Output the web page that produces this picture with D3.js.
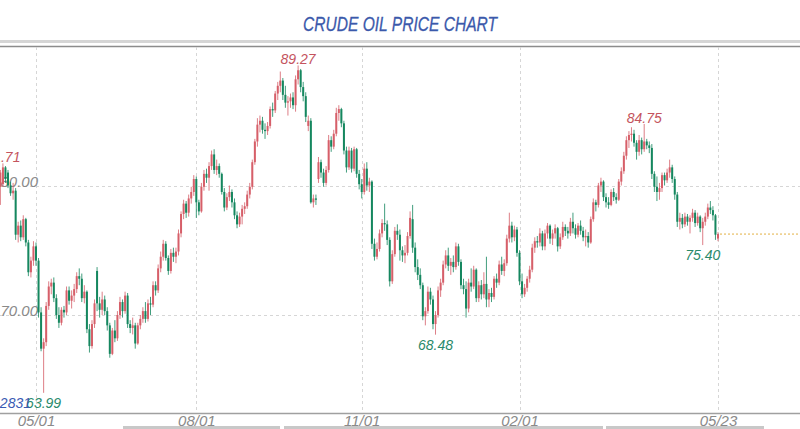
<!DOCTYPE html>
<html>
<head>
<meta charset="utf-8">
<script src="https://cdn.jsdelivr.net/npm/d3@7/dist/d3.min.js"></script>
<style>
  body { margin: 0; background: #fff; }
  svg { display: block; }
</style>
</head>
<body>
<script>

// trading days from 2023-04-11 to 2024-05-23 (exchange holidays left out)
var firstDay = "2023-04-11";
var lastDay = "2024-05-23";
var holidays = ["2023-05-29", "2023-06-19", "2023-07-04", "2023-09-04", "2023-11-23",
                "2023-12-25", "2024-01-01", "2024-01-15", "2024-02-19", "2024-03-29"];

// one line per month
var open = [
  79.9, 80.1, 81.4, 81.0, 80.0, 79.4, 79.6, 76.2, 76.9, 76.0, 77.4, 75.6, 73.3, 74.2,
  75.3, 74.2, 70.2, 67.4, 67.9, 70.7, 72.2, 72.5, 71.3, 70.0, 69.4, 70.4, 70.2, 71.9, 71.1, 71.5, 72.0, 73.0, 72.8, 71.3, 71.8, 68.9,
  67.6, 69.3, 73.4, 70.9, 70.4, 71.2, 70.3, 69.2, 67.0, 68.8, 68.2, 70.0, 71.0, 70.3, 71.5, 69.3, 69.0, 69.2, 67.8, 69.2, 69.7,
  70.3, 69.7, 70.9, 70.8, 72.3, 71.9, 73.6, 74.5, 75.5, 74.4, 73.4, 74.8, 74.5, 74.9, 76.3, 77.8, 78.6, 77.9, 79.0, 79.5,
  80.5, 78.7, 78.0, 79.9, 80.9, 80.6, 81.5, 82.4, 81.2, 81.5, 80.9, 79.5, 78.3, 79.1, 79.5, 78.7, 77.7, 77.0, 77.6, 78.2, 78.4, 79.3, 79.9,
  81.8, 83.4, 84.7, 85.0, 84.3, 84.2, 84.6, 85.9, 85.8, 87.1, 87.7, 88.1, 87.0, 86.4, 86.5, 86.8, 86.2, 88.2, 88.9, 87.6,
  86.9, 84.6, 85.0, 78.7, 79.0, 80.5, 81.8, 81.0, 80.2, 81.2, 83.5, 83.0, 84.0, 85.6, 85.9, 84.8, 82.7, 81.4, 82.7, 81.3, 82.8, 80.9,
  80.1, 79.5, 81.3, 80.0, 80.3, 75.5, 74.5, 75.1, 76.3, 77.1, 77.0, 75.8, 72.6, 74.7, 76.5, 76.2, 75.0, 74.6, 74.8, 76.1, 77.4,
  75.2, 73.7, 73.1, 72.3, 69.9, 70.3, 71.8, 71.2, 69.3, 70.0, 71.9, 72.5, 73.9, 74.6, 73.8, 74.1, 73.7, 75.3, 74.1, 72.3,
  72.0, 70.5, 72.5, 72.2, 73.5, 71.3, 72.3, 71.6, 72.4, 71.2, 71.7, 71.4, 72.8, 72.5, 73.9, 73.4, 74.0, 75.9, 76.9, 76.0, 76.6,
  74.8, 72.6, 71.6, 72.1, 72.8, 73.5, 75.2, 75.7, 75.6, 76.3, 75.3, 76.3, 76.9, 75.9, 76.3, 76.7, 75.3, 76.0, 76.8, 76.5,
  76.3, 77.2, 76.7, 76.2, 76.9, 76.5, 76.0, 76.1, 75.6, 77.4, 78.7, 78.5, 80.0, 80.3, 79.1, 78.7, 78.5, 79.5, 79.1, 78.9,
  80.3, 81.1, 82.3, 83.5, 83.9, 84.0, 83.3, 82.6, 83.5, 82.8, 83.4, 83.1, 82.9, 80.9, 79.9, 79.5, 79.8, 80.8, 80.4, 81.0, 81.4, 80.5,
  79.3, 77.2, 77.5, 77.0, 77.6, 77.2, 77.5, 77.9, 77.1, 77.6, 76.7, 77.2, 77.6, 78.3, 78.1, 77.7, 75.9
];
var high = [
  81.2, 81.71, 81.5, 81.2, 80.3, 80.2, 79.8, 77.2, 77.3, 77.7, 77.5, 75.8, 74.5, 75.7,
  75.6, 74.4, 70.6, 68.2, 71.0, 72.6, 72.8, 72.9, 71.6, 70.6, 70.6, 70.7, 72.2, 72.2, 71.9, 72.4, 73.3, 73.6, 73.2, 72.3, 71.9, 69.3,
  69.6, 71.2, 73.7, 71.4, 71.8, 71.5, 70.6, 69.4, 69.0, 69.6, 70.3, 71.4, 71.2, 71.8, 71.7, 69.6, 69.8, 69.4, 69.4, 70.0, 70.6,
  71.0, 71.2, 71.4, 72.6, 72.6, 73.9, 74.9, 75.8, 75.7, 74.6, 75.1, 75.2, 75.2, 76.6, 78.0, 78.9, 78.8, 79.3, 79.9, 80.8,
  80.7, 78.9, 80.2, 81.2, 81.3, 81.8, 82.7, 82.8, 82.0, 81.7, 81.0, 79.8, 79.4, 80.0, 79.7, 79.0, 78.0, 77.9, 78.5, 78.7, 79.6, 80.2, 82.0,
  83.6, 85.2, 85.4, 85.3, 84.8, 84.9, 86.1, 86.4, 87.3, 88.0, 88.8, 88.3, 87.7, 86.9, 87.1, 87.2, 88.5, 89.27, 89.0, 88.0,
  87.2, 85.4, 85.2, 79.3, 79.3, 82.2, 82.0, 81.3, 81.5, 83.9, 83.8, 84.3, 86.0, 86.2, 86.0, 85.0, 83.0, 83.0, 82.9, 83.0, 82.9, 81.2,
  80.5, 81.7, 81.8, 80.6, 80.4, 75.9, 75.6, 76.6, 77.4, 78.6, 77.3, 76.0, 75.0, 76.8, 77.0, 76.6, 75.3, 75.4, 76.4, 78.0, 78.5,
  75.6, 74.3, 73.6, 72.5, 70.6, 72.2, 72.1, 71.5, 70.3, 72.2, 72.8, 74.2, 75.0, 75.2, 74.4, 74.6, 75.6, 75.5, 74.3, 72.8,
  72.6, 72.8, 73.6, 73.8, 73.6, 72.6, 72.7, 73.3, 74.5, 72.0, 72.1, 73.0, 73.2, 74.2, 74.5, 74.3, 76.2, 77.9, 77.2, 76.9, 76.8,
  75.0, 73.2, 72.4, 73.0, 73.8, 75.5, 76.0, 76.1, 76.7, 76.5, 76.6, 77.1, 77.0, 76.6, 77.0, 76.8, 76.3, 77.2, 77.0, 76.8,
  77.5, 77.9, 77.0, 77.1, 77.3, 76.8, 76.6, 76.4, 77.6, 79.0, 78.9, 80.2, 80.6, 80.4, 79.4, 79.1, 79.7, 79.8, 79.4, 80.5,
  81.4, 82.6, 83.8, 84.2, 84.5, 84.3, 83.5, 83.9, 83.7, 84.75, 83.6, 83.4, 83.2, 81.1, 80.7, 80.2, 81.0, 81.0, 81.3, 82.0, 81.6, 80.7,
  79.5, 77.9, 77.8, 77.9, 77.8, 77.7, 78.2, 78.1, 77.9, 77.7, 77.5, 77.9, 78.6, 78.8, 78.4, 77.8, 76.4
];
var low = [
  78.5, 79.9, 80.2, 79.8, 79.2, 78.9, 75.8, 75.6, 75.7, 75.8, 75.3, 73.0, 72.9, 73.8,
  73.8, 69.8, 67.2, 63.99, 67.6, 70.4, 71.6, 71.0, 69.7, 69.0, 69.2, 69.8, 70.0, 70.8, 70.5, 71.0, 71.7, 72.3, 71.0, 70.9, 68.6, 67.1,
  67.4, 69.0, 70.3, 69.8, 70.0, 70.0, 68.8, 66.7, 66.9, 67.9, 68.0, 69.7, 69.8, 70.1, 69.0, 68.6, 68.5, 67.4, 67.7, 68.9, 69.4,
  69.4, 69.5, 70.0, 70.6, 71.5, 71.7, 73.3, 74.2, 74.2, 73.1, 73.2, 74.1, 74.0, 74.6, 76.0, 77.4, 77.5, 77.6, 78.6, 79.2,
  77.5, 77.7, 77.9, 79.6, 80.2, 79.6, 81.2, 80.9, 80.8, 80.6, 79.3, 78.0, 78.1, 78.8, 78.3, 77.4, 76.7, 76.8, 77.0, 77.8, 78.2, 79.0, 79.7,
  81.6, 83.0, 84.1, 84.0, 83.6, 83.9, 84.4, 85.3, 85.6, 86.6, 87.2, 86.6, 86.0, 85.4, 86.0, 85.9, 85.7, 87.8, 87.2, 86.5,
  84.9, 84.2, 78.6, 78.3, 78.5, 80.2, 80.6, 79.9, 80.0, 81.0, 82.6, 82.8, 83.8, 85.0, 84.5, 82.4, 81.0, 81.2, 81.0, 81.1, 80.6, 79.7,
  79.0, 79.3, 79.6, 79.5, 75.1, 74.2, 74.3, 74.9, 76.0, 76.5, 75.4, 72.2, 72.4, 74.5, 75.8, 74.2, 74.1, 74.0, 74.6, 75.9, 74.8,
  73.3, 72.7, 72.0, 69.6, 69.2, 70.1, 70.8, 68.9, 68.48, 69.8, 71.4, 72.3, 73.6, 73.4, 73.1, 73.3, 73.5, 73.8, 72.0, 71.6,
  69.8, 70.2, 71.8, 72.0, 71.0, 71.0, 71.2, 71.3, 70.6, 70.6, 71.0, 71.2, 72.1, 72.3, 73.1, 73.0, 73.8, 75.6, 75.6, 75.7, 74.5,
  72.3, 71.3, 71.4, 71.8, 72.5, 73.3, 74.8, 75.2, 75.3, 75.0, 75.0, 75.9, 75.5, 75.4, 75.9, 74.9, 75.1, 75.8, 76.1, 75.9,
  76.1, 76.3, 75.9, 76.0, 76.2, 75.7, 75.3, 75.2, 75.5, 77.2, 78.0, 78.3, 79.5, 78.8, 78.3, 78.2, 78.4, 78.8, 78.6, 78.8,
  80.0, 80.9, 82.0, 82.9, 83.4, 83.0, 82.0, 82.3, 82.4, 82.6, 82.8, 82.5, 80.5, 79.5, 78.8, 78.9, 79.5, 80.0, 80.2, 80.6, 80.2, 78.9,
  76.8, 76.6, 76.7, 76.8, 76.9, 76.3, 77.2, 76.8, 76.9, 76.4, 75.40, 76.9, 77.4, 77.8, 77.3, 75.8, 75.7
];
var close = [
  81.0, 81.4, 80.5, 80.0, 79.4, 79.6, 76.2, 76.9, 76.0, 77.4, 75.6, 73.3, 74.2, 75.3,
  74.2, 70.2, 67.4, 67.9, 70.7, 72.2, 72.5, 71.3, 70.0, 69.4, 70.4, 70.2, 71.9, 71.1, 71.5, 72.0, 73.0, 72.8, 71.3, 71.8, 68.9, 67.6,
  69.3, 70.9, 70.9, 70.4, 71.2, 70.3, 69.2, 67.0, 68.8, 68.2, 70.0, 71.0, 70.3, 71.5, 69.3, 69.0, 69.2, 67.8, 69.2, 69.7, 70.3,
  69.7, 70.9, 70.8, 72.3, 71.9, 73.6, 74.5, 75.5, 74.4, 73.4, 74.8, 74.5, 74.9, 76.3, 77.8, 78.6, 77.9, 79.0, 79.5, 80.5,
  78.7, 78.0, 79.9, 80.9, 80.6, 81.5, 82.4, 81.2, 81.5, 80.9, 79.5, 78.3, 79.1, 79.5, 78.7, 77.7, 77.0, 77.6, 78.2, 78.4, 79.3, 79.9, 81.8,
  83.4, 84.7, 85.0, 84.3, 84.2, 84.6, 85.9, 85.8, 87.1, 87.7, 88.1, 87.0, 86.4, 86.5, 86.8, 86.2, 88.2, 88.9, 87.6, 86.9,
  85.3, 85.0, 78.7, 79.0, 78.9, 81.8, 81.0, 80.2, 81.2, 83.5, 83.0, 84.0, 85.6, 85.9, 84.8, 82.7, 81.4, 82.7, 81.3, 82.8, 80.9, 80.1,
  79.5, 81.3, 80.0, 80.3, 75.5, 74.5, 75.1, 76.3, 77.1, 77.0, 75.8, 72.6, 74.7, 76.5, 76.2, 75.0, 74.6, 74.8, 76.1, 77.5, 75.2,
  73.7, 73.1, 72.3, 69.9, 70.3, 71.8, 71.2, 69.3, 70.0, 71.9, 72.5, 73.9, 74.6, 73.8, 74.1, 73.7, 75.3, 74.1, 72.3, 72.0,
  70.5, 72.5, 72.2, 73.5, 71.3, 72.3, 71.6, 72.4, 71.2, 71.7, 71.4, 72.8, 72.5, 73.9, 73.4, 74.0, 75.9, 76.9, 76.0, 76.6, 74.8,
  72.6, 71.6, 72.1, 72.8, 73.5, 75.2, 75.7, 75.6, 76.3, 75.3, 76.3, 76.9, 75.9, 76.3, 76.7, 75.3, 76.0, 76.8, 76.5, 76.3,
  77.2, 76.7, 76.2, 76.9, 76.5, 76.0, 76.1, 75.6, 77.4, 78.7, 78.5, 80.0, 80.3, 79.1, 78.7, 78.5, 79.5, 79.1, 78.9, 80.3,
  81.1, 82.3, 83.5, 83.9, 84.0, 83.3, 82.6, 83.5, 82.8, 83.4, 83.1, 82.9, 80.9, 79.9, 79.5, 79.8, 80.8, 80.4, 81.0, 81.4, 80.5, 79.3,
  77.2, 77.5, 77.0, 77.6, 77.2, 77.5, 77.9, 77.1, 77.6, 76.7, 77.2, 77.6, 78.3, 78.1, 77.7, 76.2, 76.25
];

var tickDays = ["2023-05-01", "2023-08-01", "2023-11-01", "2024-02-01", "2024-05-23"];
var tickLabels = ["05/01", "08/01", "11/01", "02/01", "05/23"];
var priceTicks = [70, 80];

// highs and lows that carry a price label
var markDays = ["2023-04-12", "2023-05-04", "2023-09-27", "2023-12-13", "2024-04-12", "2024-05-15"];
var markKind = ["high", "low", "high", "low", "high", "low"];

var w = 800, h = 429;
var plotTop = 47, plotBottom = 413;
var upColor = "#d65f69", downColor = "#15875f";

var parse = d3.utcParse("%Y-%m-%d"), fmt = d3.utcFormat("%Y-%m-%d");
var days = d3.utcDays(parse(firstDay), d3.utcDay.offset(parse(lastDay), 1))
    .filter(function (d) {
        var wd = d.getUTCDay();
        return wd != 0 && wd != 6 && holidays.indexOf(fmt(d)) < 0;
    })
    .map(fmt);

var candles = days.map(function (d, i) {
    return {day: d, i: i, o: open[i], h: high[i], l: low[i], c: close[i]};
});

var x = d3.scaleLinear()
    .domain([days.indexOf(tickDays[0]), days.indexOf(tickDays[tickDays.length - 1])])
    .range([36, 718]);

var y = d3.scaleLinear()
    .domain([70, 80])
    .range([315, 185.5]);

var svg = d3.select("body").append("svg")
    .attr("width", w)
    .attr("height", h);

svg.append("defs").append("clipPath").attr("id", "plot")
    .append("rect")
    .attr("x", 0).attr("y", plotTop)
    .attr("width", w).attr("height", plotBottom - plotTop);

// title
svg.append("text")
    .attr("x", w / 2).attr("y", 31)
    .attr("text-anchor", "middle")
    .attr("textLength", 194)
    .attr("lengthAdjust", "spacingAndGlyphs")
    .style("font-family", "'Liberation Sans Narrow', 'Liberation Sans', sans-serif")
    .style("font-style", "italic")
    .style("font-size", "21px")
    .style("fill", "#3b59ab")
    .style("stroke", "#3b59ab")
    .style("stroke-width", 0.3)
    .text("CRUDE OIL PRICE CHART");

// frame lines under the title
svg.append("rect")
    .attr("x", 0).attr("y", 40)
    .attr("width", w).attr("height", 3)
    .style("fill", "#d5d5d5");
svg.append("line")
    .attr("x1", 0).attr("x2", w)
    .attr("y1", plotTop - 0.5).attr("y2", plotTop - 0.5)
    .style("stroke", "#8c8c8c").style("stroke-width", 1.5);

// grid
var tickIdx = tickDays.map(function (d) { return days.indexOf(d) });

svg.append("g").selectAll("line")
    .data(tickIdx)
    .enter().append("line")
    .attr("x1", function (d) { return Math.round(x(d)) + 0.5 })
    .attr("x2", function (d) { return Math.round(x(d)) + 0.5 })
    .attr("y1", plotTop)
    .attr("y2", plotBottom)
    .style("stroke", "#d6d6d6")
    .style("stroke-dasharray", "3,3");

svg.append("g").selectAll("line")
    .data(priceTicks)
    .enter().append("line")
    .attr("x1", 0).attr("x2", w)
    .attr("y1", function (d) { return Math.round(y(d)) + 0.5 })
    .attr("y2", function (d) { return Math.round(y(d)) + 0.5 })
    .style("stroke", "#d6d6d6")
    .style("stroke-dasharray", "3,3");

svg.append("g").selectAll("text")
    .data(priceTicks)
    .enter().append("text")
    .attr("x", 38)
    .attr("y", function (d) { return y(d) + 1 })
    .attr("text-anchor", "end")
    .style("font-family", "'Liberation Sans', sans-serif")
    .style("font-style", "italic")
    .style("font-size", "15px")
    .style("fill", "#8a8a8a")
    .text(function (d) { return d3.format(".2f")(d) });

// candles
var g = svg.append("g").attr("clip-path", "url(#plot)");

function col(d) { return d.c >= d.o ? upColor : downColor }

g.selectAll(".wick")
    .data(candles)
    .enter().append("line")
    .attr("class", "wick")
    .attr("x1", function (d) { return x(d.i) })
    .attr("x2", function (d) { return x(d.i) })
    .attr("y1", function (d) { return y(d.h) })
    .attr("y2", function (d) { return y(d.l) })
    .style("stroke", col)
    .style("stroke-width", 1)
    .style("opacity", 0.8);

g.selectAll(".body")
    .data(candles)
    .enter().append("rect")
    .attr("class", "body")
    .attr("x", function (d) { return x(d.i) - 1 })
    .attr("width", 2)
    .attr("y", function (d) { return y(Math.max(d.o, d.c)) })
    .attr("height", function (d) { return Math.max(1, Math.abs(y(d.o) - y(d.c))) })
    .style("fill", col);

// last price line
var last = candles[candles.length - 1];
svg.append("line")
    .attr("x1", x(last.i) + 2).attr("x2", w)
    .attr("y1", y(last.c)).attr("y2", y(last.c))
    .style("stroke", "#e2b043")
    .style("stroke-width", 1)
    .style("stroke-dasharray", "2,2");

// high / low labels
svg.append("g").selectAll("text")
    .data(markDays)
    .enter().append("text")
    .attr("x", function (d) { return x(days.indexOf(d)) })
    .attr("y", function (d, k) {
        var c = candles[days.indexOf(d)];
        return markKind[k] == "high" ? y(c.h) - 1 : y(c.l) + 15;
    })
    .attr("text-anchor", "middle")
    .style("font-family", "'Liberation Sans', sans-serif")
    .style("font-style", "italic")
    .style("font-size", "14px")
    .style("fill", function (d, k) { return markKind[k] == "high" ? "#c4545e" : "#2a8a6b" })
    .text(function (d, k) {
        var c = candles[days.indexOf(d)];
        return d3.format(".2f")(markKind[k] == "high" ? c.h : c.l);
    });

// volume readout cut at the left edge
svg.append("text")
    .attr("x", 31).attr("y", 408)
    .attr("text-anchor", "end")
    .style("font-family", "'Liberation Sans', sans-serif")
    .style("font-style", "italic")
    .style("font-size", "14px")
    .style("fill", "#3a5bb3")
    .text("2831");

// x axis
svg.append("line")
    .attr("x1", 0).attr("x2", w)
    .attr("y1", plotBottom + 0.5).attr("y2", plotBottom + 0.5)
    .style("stroke", "#a0a0a0").style("stroke-width", 1.5);

var xAxis = d3.axisBottom(x)
    .tickValues(tickIdx)
    .tickFormat(function (d, i) { return tickLabels[i] })
    .tickSize(0)
    .tickPadding(2);

var ax = svg.append("g")
    .attr("class", "axis")
    .attr("transform", "translate(0," + plotBottom + ")")
    .call(xAxis);
ax.select(".domain").remove();
ax.selectAll("text")
    .style("font-family", "'Liberation Sans', sans-serif")
    .style("font-style", "italic")
    .style("font-size", "15px")
    .style("fill", "#8a8a8a");

// scroll bar pieces at the bottom
var scrollParts = [[123, 280], [284, 603], [606, 764]];
svg.append("g").selectAll("rect")
    .data(scrollParts)
    .enter().append("rect")
    .attr("x", function (d) { return d[0] })
    .attr("width", function (d) { return d[1] - d[0] })
    .attr("y", 426)
    .attr("height", 3)
    .style("fill", "#c8c8c8");

</script>
</body>
</html>
